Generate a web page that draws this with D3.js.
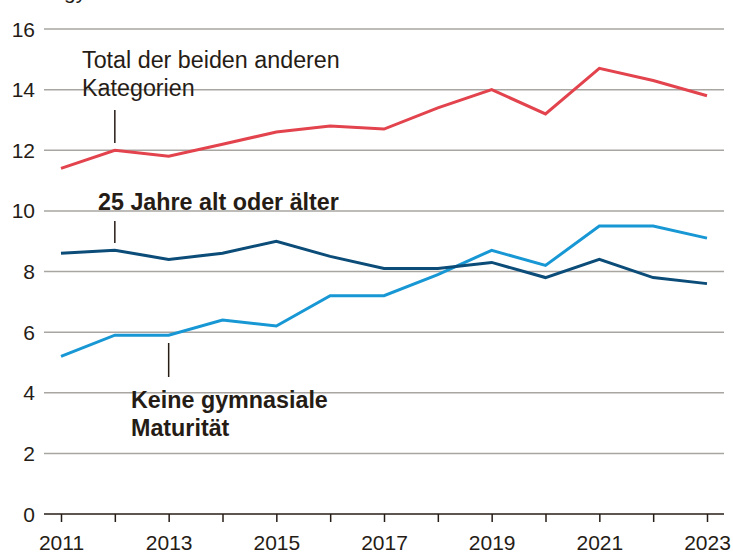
<!DOCTYPE html>
<html><head><meta charset="utf-8">
<script src="https://cdn.jsdelivr.net/npm/d3@7"></script>
<style>
html,body{margin:0;padding:0;background:#fff;}
svg{display:block;font-family:"Liberation Sans",Arial,Helvetica,sans-serif;}
</style></head>
<body><svg id="chart" width="733" height="555"></svg>
<script>
const years = [2011,2012,2013,2014,2015,2016,2017,2018,2019,2020,2021,2022,2023];
const totalAndere = [11.4,12.0,11.8,12.2,12.6,12.8,12.7,13.4,14.0,13.2,14.7,14.3,13.8];
const ueber25 = [8.6,8.7,8.4,8.6,9.0,8.5,8.1,8.1,8.3,7.8,8.4,7.8,7.6];
const keineMaturitaet = [5.2,5.9,5.9,6.4,6.2,7.2,7.2,7.9,8.7,8.2,9.5,9.5,9.1];
const yTicks = [0,2,4,6,8,10,12,14,16];
const xLabelYears = [2011,2013,2015,2017,2019,2021,2023];

const textCol = "#261c16";
const svg = d3.select("#chart");
const x = d3.scaleLinear().domain([2011,2023]).range([61,707]);
const y = d3.scaleLinear().domain([0,16]).range([514,29]);

// header line, mostly above the visible area as in the reference
svg.append("text").attr("x",64).attr("y",-1).attr("font-size",21).attr("fill",textCol).text("gy");

// gridlines
svg.append("g").selectAll("line").data(yTicks.filter(d=>d>0)).join("line")
  .attr("x1",44).attr("x2",724).attr("y1",d=>y(d)).attr("y2",d=>y(d))
  .attr("stroke","#a9a6a2").attr("stroke-width",1.5);
// y labels
svg.append("g").selectAll("text").data(yTicks).join("text")
  .attr("x",35).attr("y",d=>y(d)+7.5).attr("text-anchor","end")
  .attr("font-size",21).attr("fill",textCol).text(d=>d);

// x axis
const xAxis = d3.axisBottom(x).tickValues(years).tickSize(8).tickFormat(d=>xLabelYears.includes(d)?d:"");
const gx = svg.append("g").attr("transform",`translate(0,${y(0)})`).call(xAxis);
gx.select(".domain").remove();
gx.selectAll(".tick line").attr("stroke",textCol).attr("stroke-width",1.5);
gx.selectAll(".tick text").attr("font-size",21).attr("fill",textCol).attr("dy","1.2em")
  .attr("font-family","Liberation Sans,Arial,sans-serif");
svg.append("line").attr("x1",44).attr("x2",724).attr("y1",y(0)).attr("y2",y(0))
  .attr("stroke",textCol).attr("stroke-width",1.5);

const line = d3.line().x((d,i)=>x(years[i])).y(d=>y(d));
const series = [
  {vals:totalAndere,color:"#e2434d"},
  {vals:ueber25,color:"#0b4c78"},
  {vals:keineMaturitaet,color:"#1797d4"}
];
[series[0],series[2],series[1]].forEach(s=>{
  svg.append("path").attr("d",line(s.vals)).attr("fill","none")
    .attr("stroke",s.color).attr("stroke-width",3).attr("stroke-linejoin","miter");
});

// annotations
function leader(xv,y1,y2){
  svg.append("line").attr("x1",x(xv)).attr("x2",x(xv)).attr("y1",y1).attr("y2",y2)
    .attr("stroke",textCol).attr("stroke-width",1.5);
}
leader(2012,110,143);
leader(2012,221,243);
leader(2013,343,377);

const t1 = svg.append("text").attr("x",82).attr("y",68).attr("font-size",23.3).attr("fill",textCol);
t1.append("tspan").attr("x",82).text("Total der beiden anderen");
t1.append("tspan").attr("x",82).attr("dy",28).text("Kategorien");

svg.append("text").attr("x",98).attr("y",210).attr("font-size",23.3).attr("font-weight","bold")
  .attr("fill",textCol).text("25 Jahre alt oder älter");

const t3 = svg.append("text").attr("x",131).attr("y",408).attr("font-size",23.3).attr("font-weight","bold").attr("fill",textCol);
t3.append("tspan").attr("x",131).text("Keine gymnasiale");
t3.append("tspan").attr("x",131).attr("dy",28).text("Maturität");
</script></body></html>
